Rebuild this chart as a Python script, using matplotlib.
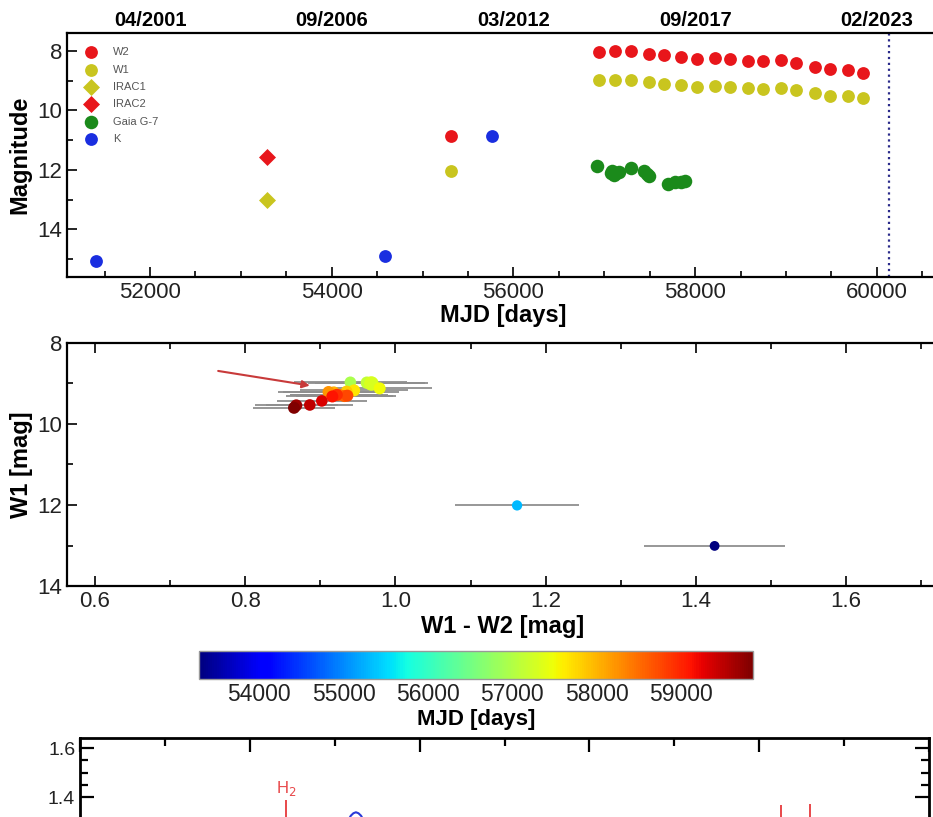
import numpy as np
import matplotlib.pyplot as plt
from matplotlib.ticker import MultipleLocator, FixedLocator
from matplotlib.colors import Normalize
import matplotlib as mpl

plt.rcParams['font.family'] = ['Liberation Sans', 'DejaVu Sans']

W, H = 933, 817

# ---- light curve (top panel) ----
wise_mjd = [55310, 56942, 57118, 57299, 57493, 57658, 57849, 58018, 58219, 58384,
            58582, 58747, 58950, 59115, 59316, 59481, 59683, 59848]
w2_mag = [10.86, 8.03, 8.02, 8.00, 8.09, 8.14, 8.19, 8.26, 8.25, 8.28,
          8.35, 8.35, 8.31, 8.41, 8.53, 8.62, 8.65, 8.73]
w1_mag = [12.04, 8.99, 8.98, 8.98, 9.06, 9.12, 9.15, 9.20, 9.18, 9.20,
          9.25, 9.27, 9.25, 9.33, 9.43, 9.52, 9.53, 9.60]
irac_mjd = [53292]
irac1_mag = [13.02]
irac2_mag = [11.57]
k_mjd = [51406, 54587, 55769]
k_mag = [15.07, 14.88, 10.86]
gaia_mjd = [56917, 57075, 57090, 57110, 57125, 57162, 57291, 57437, 57470, 57493,
            57702, 57780, 57841, 57885]
gaia_mag = [11.87, 12.10, 12.04, 12.17, 12.12, 12.07, 11.93, 12.04, 12.13, 12.21,
            12.46, 12.42, 12.41, 12.38]
dip_mjd = 60131
date_ticks = [52000, 54000, 56000, 58000, 60000]
date_labels = ['04/2001', '09/2006', '03/2012', '09/2017', '02/2023']

# ---- colour-magnitude (middle panel) ----
cmd_mjd = [53292, 55310, 56942, 57118, 57299, 57493, 57658, 57849, 58018, 58219,
           58384, 58582, 58747, 58950, 59115, 59316, 59481, 59683, 59848]
cmd_color = [1.425, 1.162, 0.940, 0.962, 0.968, 0.979, 0.945, 0.935, 0.918, 0.911,
             0.925, 0.932, 0.936, 0.922, 0.916, 0.902, 0.886, 0.868, 0.865]
cmd_w1 = [13.01, 12.01, 8.97, 8.98, 9.00, 9.12, 9.17, 9.20, 9.22, 9.21,
          9.28, 9.31, 9.30, 9.28, 9.32, 9.43, 9.53, 9.54, 9.60]
cmd_err = [0.094, 0.082, 0.075, 0.078, 0.075, 0.070, 0.072, 0.070, 0.068, 0.068,
           0.065, 0.065, 0.065, 0.062, 0.062, 0.060, 0.058, 0.055, 0.055]
cmd_size = [50, 55, 70, 80, 110, 75, 75, 75, 75, 75, 75, 75, 75, 75, 75, 70, 70, 75, 75]
cbar_ticks = [54000, 55000, 56000, 57000, 58000, 59000]

# ---- spectrum (bottom panel, mostly cut off) ----
spec_wave = [2.0575, 2.0595, 2.0610, 2.0625, 2.0640, 2.0655, 2.0675]
spec_flux = [1.300, 1.324, 1.334, 1.338, 1.334, 1.324, 1.300]
line_wave = [2.0213, 2.3130, 2.3300]
line_top = [1.388, 1.366, 1.370]


def px_rect(left, top, right, bottom):
    return [left / W, 1 - bottom / H, (right - left) / W, (bottom - top) / H]


def style_ticks(ax, size=16):
    ax.tick_params(which='both', direction='in', top=True, right=True,
                   labelsize=size, labelcolor='#222222', width=1.2)
    ax.tick_params(which='major', length=7)
    ax.tick_params(which='minor', length=4)
    for s in ax.spines.values():
        s.set_linewidth(1.6)


fig = plt.figure(figsize=(W / 100, H / 100), dpi=100)

# top panel
x0, x1 = 51086, 61000
top_w = (x1 - x0) / 11.007
ax1 = fig.add_axes(px_rect(67, 33, 67 + top_w, 277))
ax1.scatter(wise_mjd, w2_mag, s=85, c='#e8161b', label='W2', zorder=3, lw=0)
ax1.scatter(wise_mjd, w1_mag, s=85, c='#c9c51f', label='W1', zorder=3, lw=0)
ax1.scatter(irac_mjd, irac1_mag, s=75, marker='D', c='#c9c51f', label='IRAC1', zorder=3, lw=0)
ax1.scatter(irac_mjd, irac2_mag, s=75, marker='D', c='#e8161b', label='IRAC2', zorder=3, lw=0)
ax1.scatter(gaia_mjd, gaia_mag, s=95, c='#1b8a1b', label='Gaia G-7', zorder=3, lw=0)
ax1.scatter(k_mjd, k_mag, s=85, c='#1a2ee0', label='K', zorder=3, lw=0)
ax1.axvline(dip_mjd, color='#2a2a8a', ls=':', lw=1.6)
ax1.set_xlim(x0, x1)
ax1.set_ylim(15.6, 7.4)
ax1.xaxis.set_major_locator(FixedLocator(date_ticks))
ax1.xaxis.set_minor_locator(MultipleLocator(500))
ax1.yaxis.set_major_locator(MultipleLocator(2))
ax1.yaxis.set_minor_locator(MultipleLocator(1))
style_ticks(ax1)
ax1.set_xlabel('MJD [days]', fontsize=17, fontweight='bold', labelpad=1)
ax1.xaxis.label.set_x((503 - 67) / top_w)
ax1.set_ylabel('Magnitude', fontsize=17, fontweight='bold', labelpad=4)
leg = ax1.legend(loc='upper left', bbox_to_anchor=(0.008, 0.987), frameon=False,
                 fontsize=8, handlelength=1.0, handletextpad=1.5, labelspacing=0.66,
                 borderpad=0.5, scatterpoints=1)
for t in leg.get_texts():
    t.set_color('#555555')

ax1t = ax1.twiny()
ax1t.set_xlim(x0, x1)
ax1t.set_xticks(date_ticks)
ax1t.set_xticklabels(date_labels, fontsize=14.5, fontweight='bold')
ax1t.tick_params(length=0, pad=2)
for s in ax1t.spines.values():
    s.set_visible(False)

# middle panel
c0, c1 = 0.5627, 1.75
mid_w = (c1 - c0) * 751
ax2 = fig.add_axes(px_rect(67, 343, 67 + mid_w, 586))
norm = Normalize(vmin=min(cmd_mjd), vmax=max(cmd_mjd))
ax2.errorbar(cmd_color, cmd_w1, xerr=cmd_err, fmt='none', ecolor='#8f8f8f',
             elinewidth=1.3, capsize=0, zorder=2)
sc = ax2.scatter(cmd_color, cmd_w1, c=cmd_mjd, cmap='jet', norm=norm, s=cmd_size,
                 lw=0, zorder=3)
ax2.annotate('', xy=(0.886, 9.05), xytext=(0.764, 8.69),
             arrowprops=dict(arrowstyle='-|>', color='#c83a3a', lw=1.5,
                             mutation_scale=11, shrinkA=0, shrinkB=0))
ax2.set_xlim(c0, c1)
ax2.set_ylim(14, 8)
ax2.xaxis.set_major_locator(MultipleLocator(0.2))
ax2.xaxis.set_minor_locator(MultipleLocator(0.1))
ax2.yaxis.set_major_locator(MultipleLocator(2))
ax2.yaxis.set_minor_locator(MultipleLocator(1))
ax2.xaxis.set_major_formatter(mpl.ticker.FormatStrFormatter('%.1f'))
style_ticks(ax2)
ax2.set_xlabel('W1 - W2 [mag]', fontsize=17, fontweight='bold', labelpad=2)
ax2.xaxis.label.set_x((503 - 67) / mid_w)
ax2.set_ylabel('W1 [mag]', fontsize=17, fontweight='bold', labelpad=3)

# colour bar
cax = fig.add_axes(px_rect(199.3, 650.7, 752.7, 679.3))
cb = fig.colorbar(sc, cax=cax, orientation='horizontal')
cb.set_ticks(cbar_ticks)
cb.ax.tick_params(length=0, labelsize=16.5, labelcolor='#222222', pad=3)
cb.outline.set_edgecolor('#999999')
cb.outline.set_linewidth(1.0)
cb.set_label('MJD [days]', fontsize=16, fontweight='bold', labelpad=2)

# bottom panel (spectrum, cut by the figure edge)
ax3 = fig.add_axes(px_rect(80, 738, 929, 1100))
ax3.plot(spec_wave, spec_flux, color='#2a3ad8', lw=1.5)
ax3.vlines(line_wave, [1.30] * len(line_wave), line_top, color='#e8484a', lw=1.4)
ax3.text(line_wave[0], 1.398, 'H$_2$', color='#e8484a', fontsize=12, ha='center',
         va='bottom')
ax3.set_xlim(1.9, 2.4)
ax3.set_ylim(1.641 - (1100 - 738) * 0.00408, 1.641)
ax3.xaxis.set_major_locator(MultipleLocator(0.1))
ax3.xaxis.set_minor_locator(MultipleLocator(0.05))
ax3.yaxis.set_major_locator(FixedLocator([1.4, 1.6]))
ax3.yaxis.set_minor_locator(FixedLocator([1.45, 1.5, 1.55]))
ax3.yaxis.set_major_formatter(mpl.ticker.FormatStrFormatter('%.1f'))
ax3.tick_params(which='both', direction='in', top=True, right=True, width=1.6,
                labelsize=14, labelcolor='#222222', labelbottom=False)
ax3.tick_params(which='major', length=10)
ax3.tick_params(which='minor', length=6)
for s in ax3.spines.values():
    s.set_linewidth(2.0)

fig.savefig('out.png', dpi=100)
